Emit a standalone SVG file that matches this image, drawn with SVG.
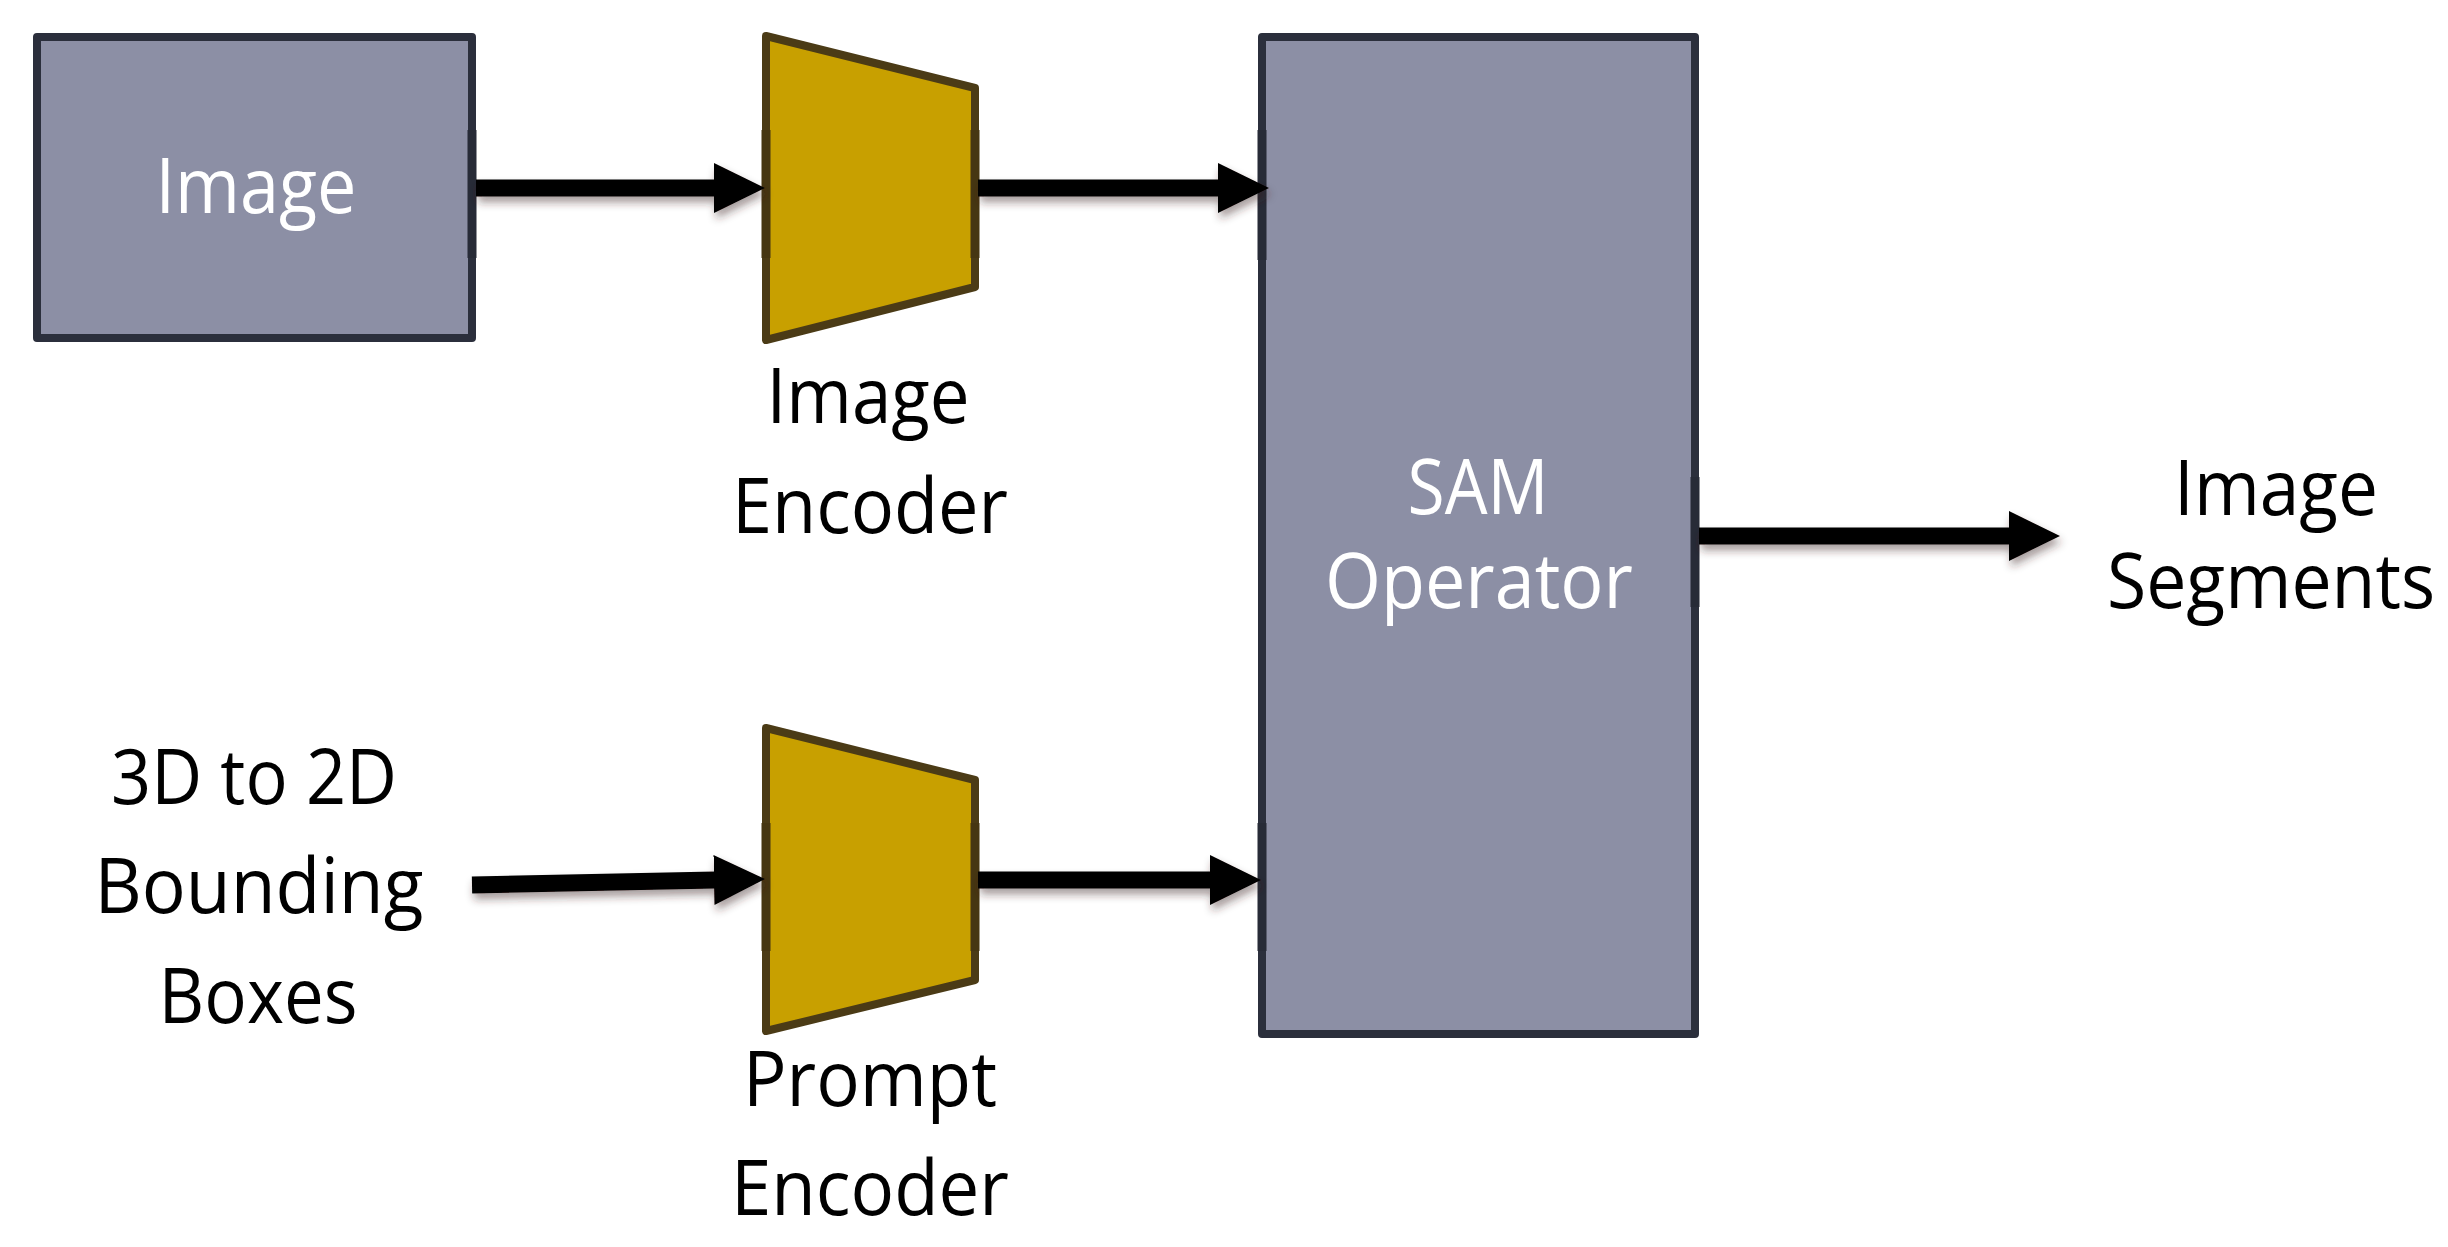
<svg xmlns="http://www.w3.org/2000/svg" width="2448" height="1247" viewBox="0 0 2448 1247">
  <style>
    .box { fill: #8c8fa5; stroke: #2b2f3c; stroke-width: 8; stroke-linejoin: round; }
    .enc { fill: #c8a000; stroke: #4b3b16; stroke-width: 8; stroke-linejoin: round; }
    .port-box { stroke: #272b37; stroke-width: 9; }
    .port-enc { stroke: #463612; stroke-width: 9; }
    .lbl { font-family: "Open Sans", "Noto Sans", "DejaVu Sans", sans-serif; font-size: 76px; text-anchor: middle; fill: #000000; }
    .wlbl { font-family: "Open Sans", "Noto Sans", "DejaVu Sans", sans-serif; font-size: 76px; font-weight: 400; text-anchor: middle; fill: #ffffff; }
    .conn { fill: none; stroke: #000000; stroke-width: 17; stroke-linecap: butt; }
  </style>
  <defs>
    <marker id="head" markerUnits="userSpaceOnUse" viewBox="0 -26 52 52" refX="1" refY="0" markerWidth="52" markerHeight="52" orient="auto">
      <path d="M0,-25 L51,0 L0,25 Z" fill="#000000"/>
    </marker>
    <filter id="shadow" x="-10%" y="-60%" width="120%" height="220%">
      <feDropShadow dx="2" dy="6" stdDeviation="4" flood-color="#3a2020" flood-opacity="0.45"/>
    </filter>
  </defs>

  <rect width="2448" height="1247" fill="#ffffff"/>

  <g id="image-node">
    <rect class="box" x="37" y="37" width="435" height="301"/>
    <line class="port-box" x1="472" y1="130" x2="472" y2="258"/>
    <text class="wlbl" x="256" y="213" textLength="201" lengthAdjust="spacingAndGlyphs">Image</text>
  </g>

  <g id="image-encoder">
    <polygon class="enc" points="766,36 975,88 975,287 766,340"/>
    <line class="port-enc" x1="766" y1="130" x2="766" y2="258"/>
    <line class="port-enc" x1="975" y1="130" x2="975" y2="258"/>
    <text class="lbl" x="868" y="423" textLength="203" lengthAdjust="spacingAndGlyphs">Image</text>
    <text class="lbl" x="870" y="533" textLength="276" lengthAdjust="spacingAndGlyphs">Encoder</text>
  </g>

  <g id="prompt-encoder">
    <polygon class="enc" points="766,728 975,780 975,980 766,1031"/>
    <line class="port-enc" x1="766" y1="823" x2="766" y2="951"/>
    <line class="port-enc" x1="975" y1="823" x2="975" y2="951"/>
    <text class="lbl" x="870" y="1106" textLength="254" lengthAdjust="spacingAndGlyphs">Prompt</text>
    <text class="lbl" x="870" y="1215" textLength="278" lengthAdjust="spacingAndGlyphs">Encoder</text>
  </g>

  <g id="sam-operator">
    <rect class="box" x="1262" y="37" width="433" height="997"/>
    <line class="port-box" x1="1262" y1="130" x2="1262" y2="260"/>
    <line class="port-box" x1="1262" y1="823" x2="1262" y2="951"/>
    <line class="port-box" x1="1695" y1="477" x2="1695" y2="607"/>
    <text class="wlbl" x="1478" y="514" textLength="141" lengthAdjust="spacingAndGlyphs">SAM</text>
    <text class="wlbl" x="1479" y="608" textLength="308" lengthAdjust="spacingAndGlyphs">Operator</text>
  </g>

  <g id="bounding-boxes">
    <text class="lbl" x="254" y="804" textLength="286" lengthAdjust="spacingAndGlyphs">3D to 2D</text>
    <text class="lbl" x="259" y="913" textLength="329" lengthAdjust="spacingAndGlyphs">Bounding</text>
    <text class="lbl" x="258" y="1023" textLength="199" lengthAdjust="spacingAndGlyphs">Boxes</text>
  </g>

  <g id="image-segments">
    <text class="lbl" x="2276" y="515" textLength="204" lengthAdjust="spacingAndGlyphs">Image</text>
    <text class="lbl" x="2271" y="608" textLength="328" lengthAdjust="spacingAndGlyphs">Segments</text>
  </g>

  <g id="connectors" filter="url(#shadow)">
    <path class="conn" d="M476,188 L715,188" marker-end="url(#head)"/>
    <path class="conn" d="M978,188 L1219,188" marker-end="url(#head)"/>
    <path class="conn" d="M472,885 L715,880" marker-end="url(#head)"/>
    <path class="conn" d="M978,880 L1211,880" marker-end="url(#head)"/>
    <path class="conn" d="M1699,536 L2010,536" marker-end="url(#head)"/>
  </g>
</svg>
